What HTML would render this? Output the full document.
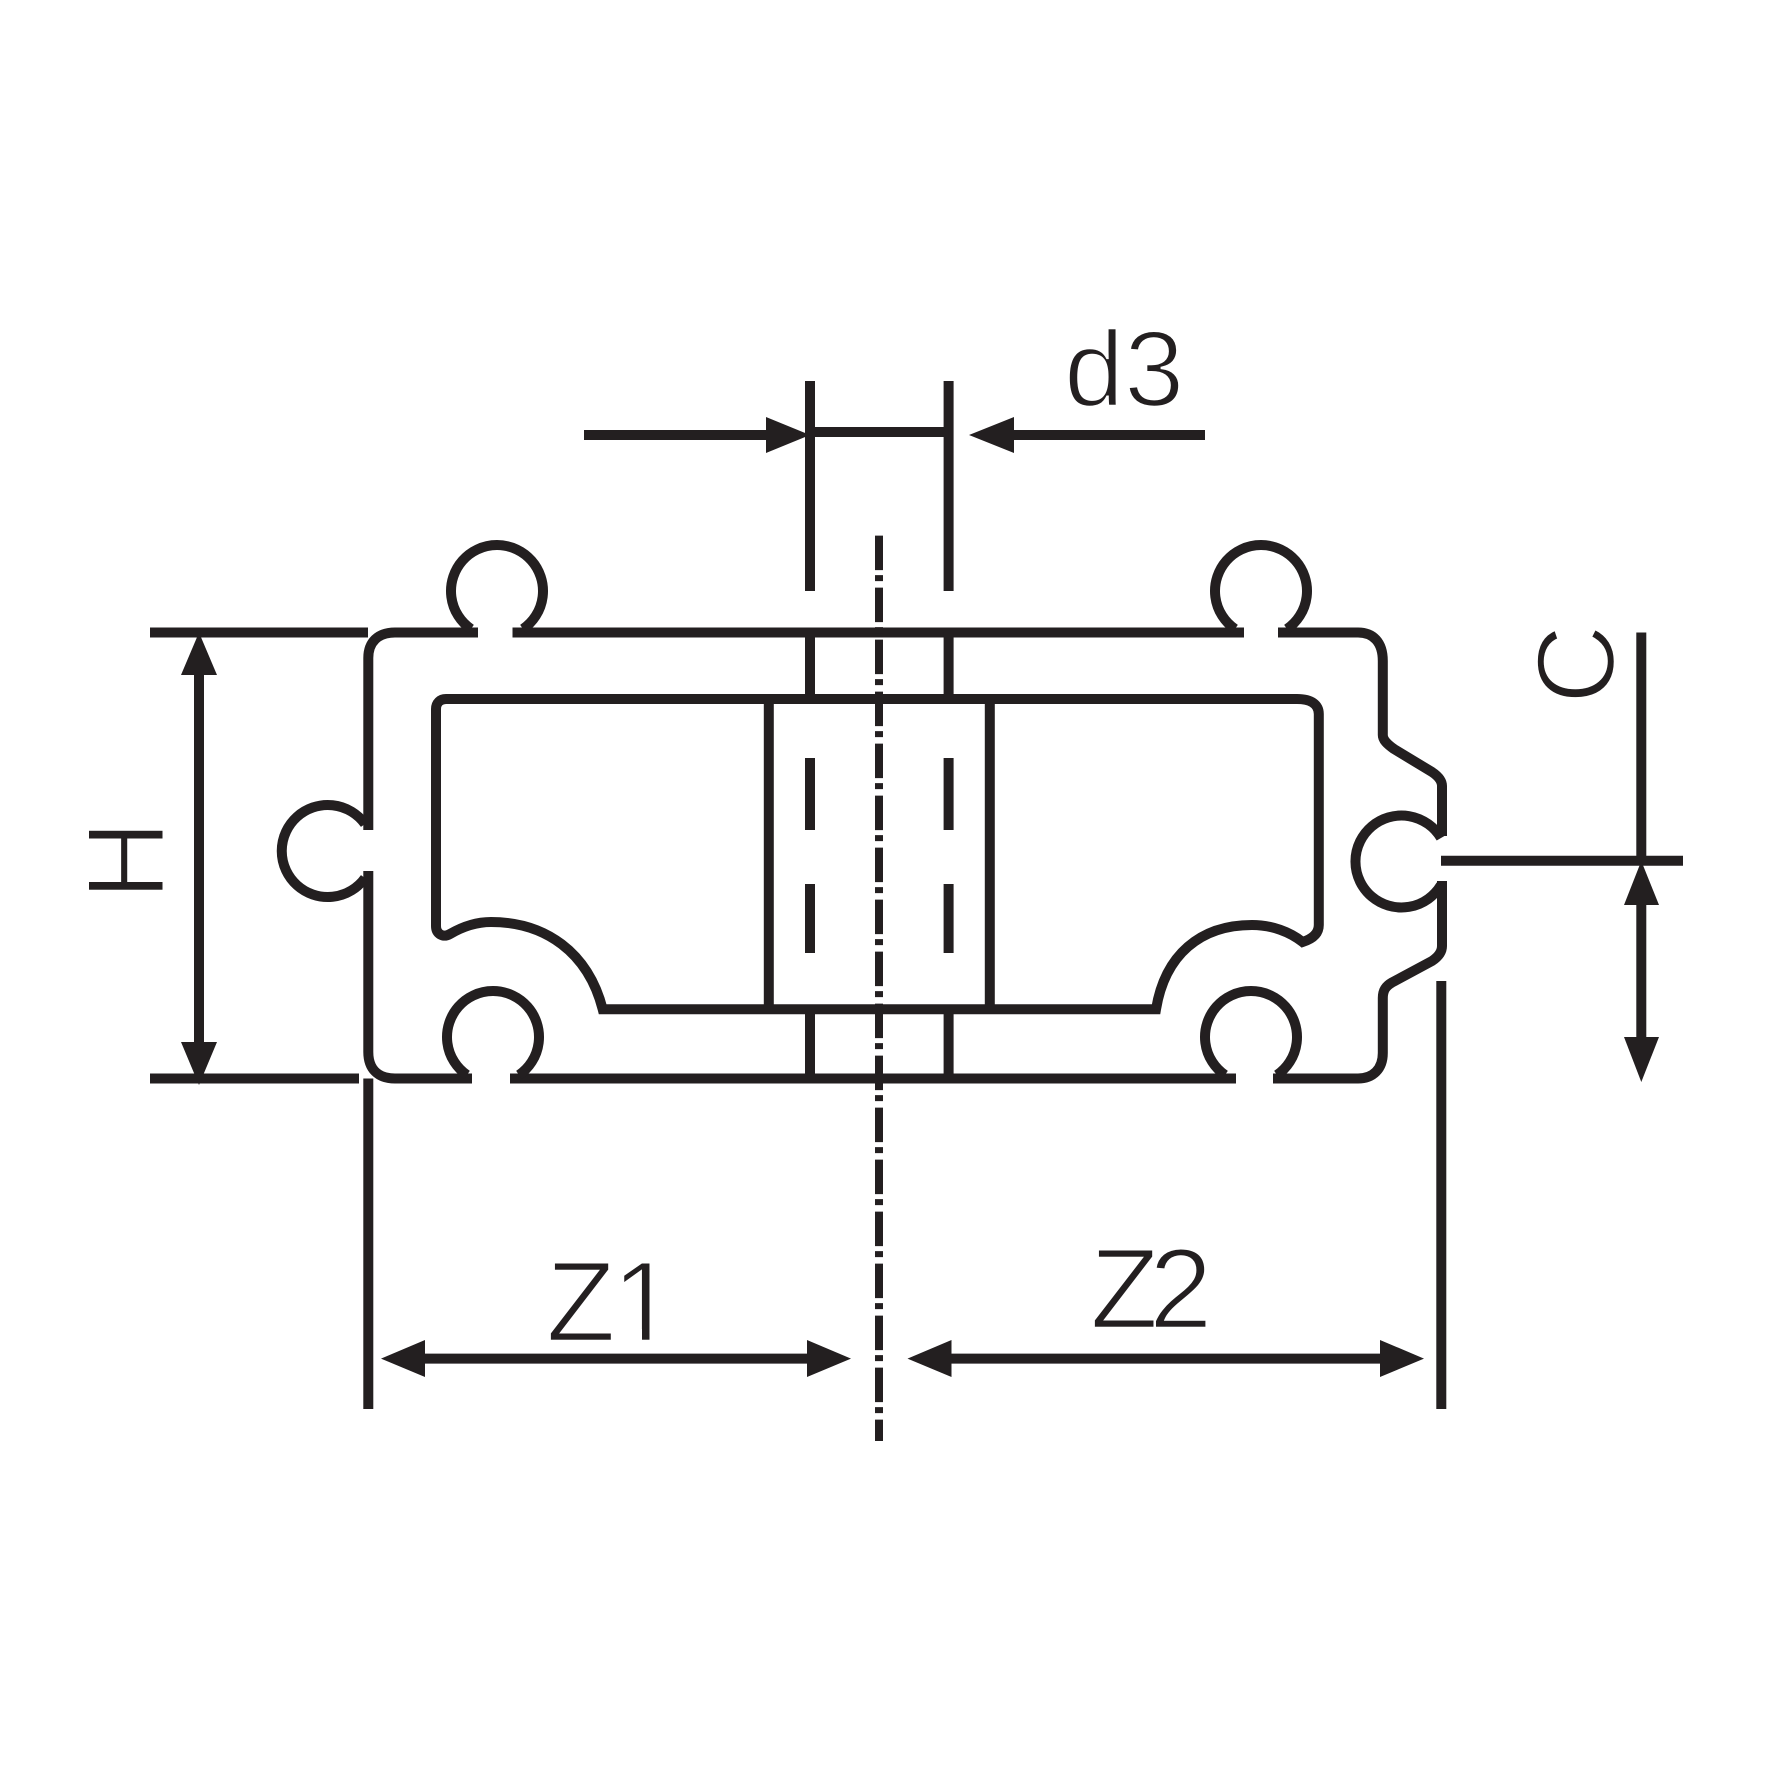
<!DOCTYPE html>
<html><head><meta charset="utf-8"><style>html,body{margin:0;padding:0;background:#fff}svg{display:block}</style></head><body>
<svg width="1772" height="1772" viewBox="0 0 1772 1772" xmlns="http://www.w3.org/2000/svg">
<rect width="1772" height="1772" fill="#fff"/>
<g font-family="'Liberation Sans',sans-serif" fill="#231f20" stroke="#fff" stroke-width="2.5">
<text x="1064" y="406" font-size="108">d3</text>
<text x="546 612" y="1341" font-size="114">Z1</text>
<text x="1090 1149" y="1328" font-size="114">Z2</text>
<text transform="translate(164,900) rotate(-90)" font-size="110">H</text>
<text transform="translate(1614,704) rotate(-90)" font-size="110">C</text>
</g>
<path d="M615 1329H642V1345H615ZM649.5 1329H685V1345H649.5Z" fill="#fff"/>
<g fill="none" stroke="#231f20" stroke-width="10">
<!-- outer profile -->
<path d="M478 632.5H395C378 632.5 368.3 642 368.3 658V830"/>
<path d="M368.3 871V1052C368.3 1069 378 1078.5 395 1078.5H472"/>
<path d="M510 1078.5H1236"/>
<path d="M1273 1078.5H1358C1373 1078.5 1382.8 1069 1382.8 1053V998C1382.8 990 1386 986 1392 982.5L1432 961C1438 957 1442 952 1442 946V881"/>
<path d="M1442 836V786C1442 781 1438 776 1432 772L1394 749C1387 744 1382.8 740 1382.8 735V661C1382.8 642 1373 632.5 1358 632.5H1278"/>
<path d="M1244 632.5H512.5"/>
<!-- knobs -->
<path d="M471 629A46 46 0 1 1 523 629"/>
<path d="M1235 629A46 46 0 1 1 1287 629"/>
<path d="M467 1075A46 46 0 1 1 519 1075"/>
<path d="M1225 1075A46 46 0 1 1 1277 1075"/>
<path d="M365 824A46 46 0 1 0 365 878"/>
<path d="M1441 838A46 46 0 1 0 1441 885"/>
<!-- inner -->
<path d="M446 699H1297C1312 699 1318.8 705 1318.8 714V925C1318.8 934 1312 939 1302.6 942C1290 932 1272 925 1252 925C1200 925 1165 955 1156 1009.3H602.7C588 952 545 922 491 922C475 922 462 927 450 934C443 938 436 934 436 926V709C436 703 440 699 446 699Z"/>
<path d="M768.8 699V1009M989.8 699V1009"/>
<!-- d3 extension -->
<path d="M810 381V591M948.6 381V591M810 632V699M948.6 632V699M810 758V830M948.6 758V830M810 884V953M948.6 884V953M810 1009V1078M948.6 1009V1078"/>
<path d="M584 435H770M810 432H948.6M1010 435H1205"/>
<!-- dims -->
<path d="M150 632.5H368M150 1078.5H359"/>
<path d="M199 670V1045"/>
<path d="M368.3 1078.5V1409M1441.3 981V1409"/>
<path d="M420 1358.6H812M946 1358.6H1385"/>
<path d="M1641.3 632.5V860.7M1441 860.7H1683M1641.3 900V1042"/>
</g>
<path d="M879 535.6V1441" fill="none" stroke="#231f20" stroke-width="8" stroke-dasharray="34.5 5 6 6.5"/>
<g fill="#231f20">
<path d="M810 435L766 417V453Z"/>
<path d="M969 435L1014 417V453Z"/>
<path d="M199 632.5L181 675H217Z"/>
<path d="M199 1085L181 1042H217Z"/>
<path d="M381 1358.6L425 1340V1377Z"/>
<path d="M851 1358.6L807 1340V1377Z"/>
<path d="M907.5 1358.6L951.5 1340V1377Z"/>
<path d="M1424 1358.6L1380 1340V1377Z"/>
<path d="M1641.3 861L1624 905H1659Z"/>
<path d="M1641.3 1082L1624 1037H1659Z"/>
</g>
</svg>
</body></html>
